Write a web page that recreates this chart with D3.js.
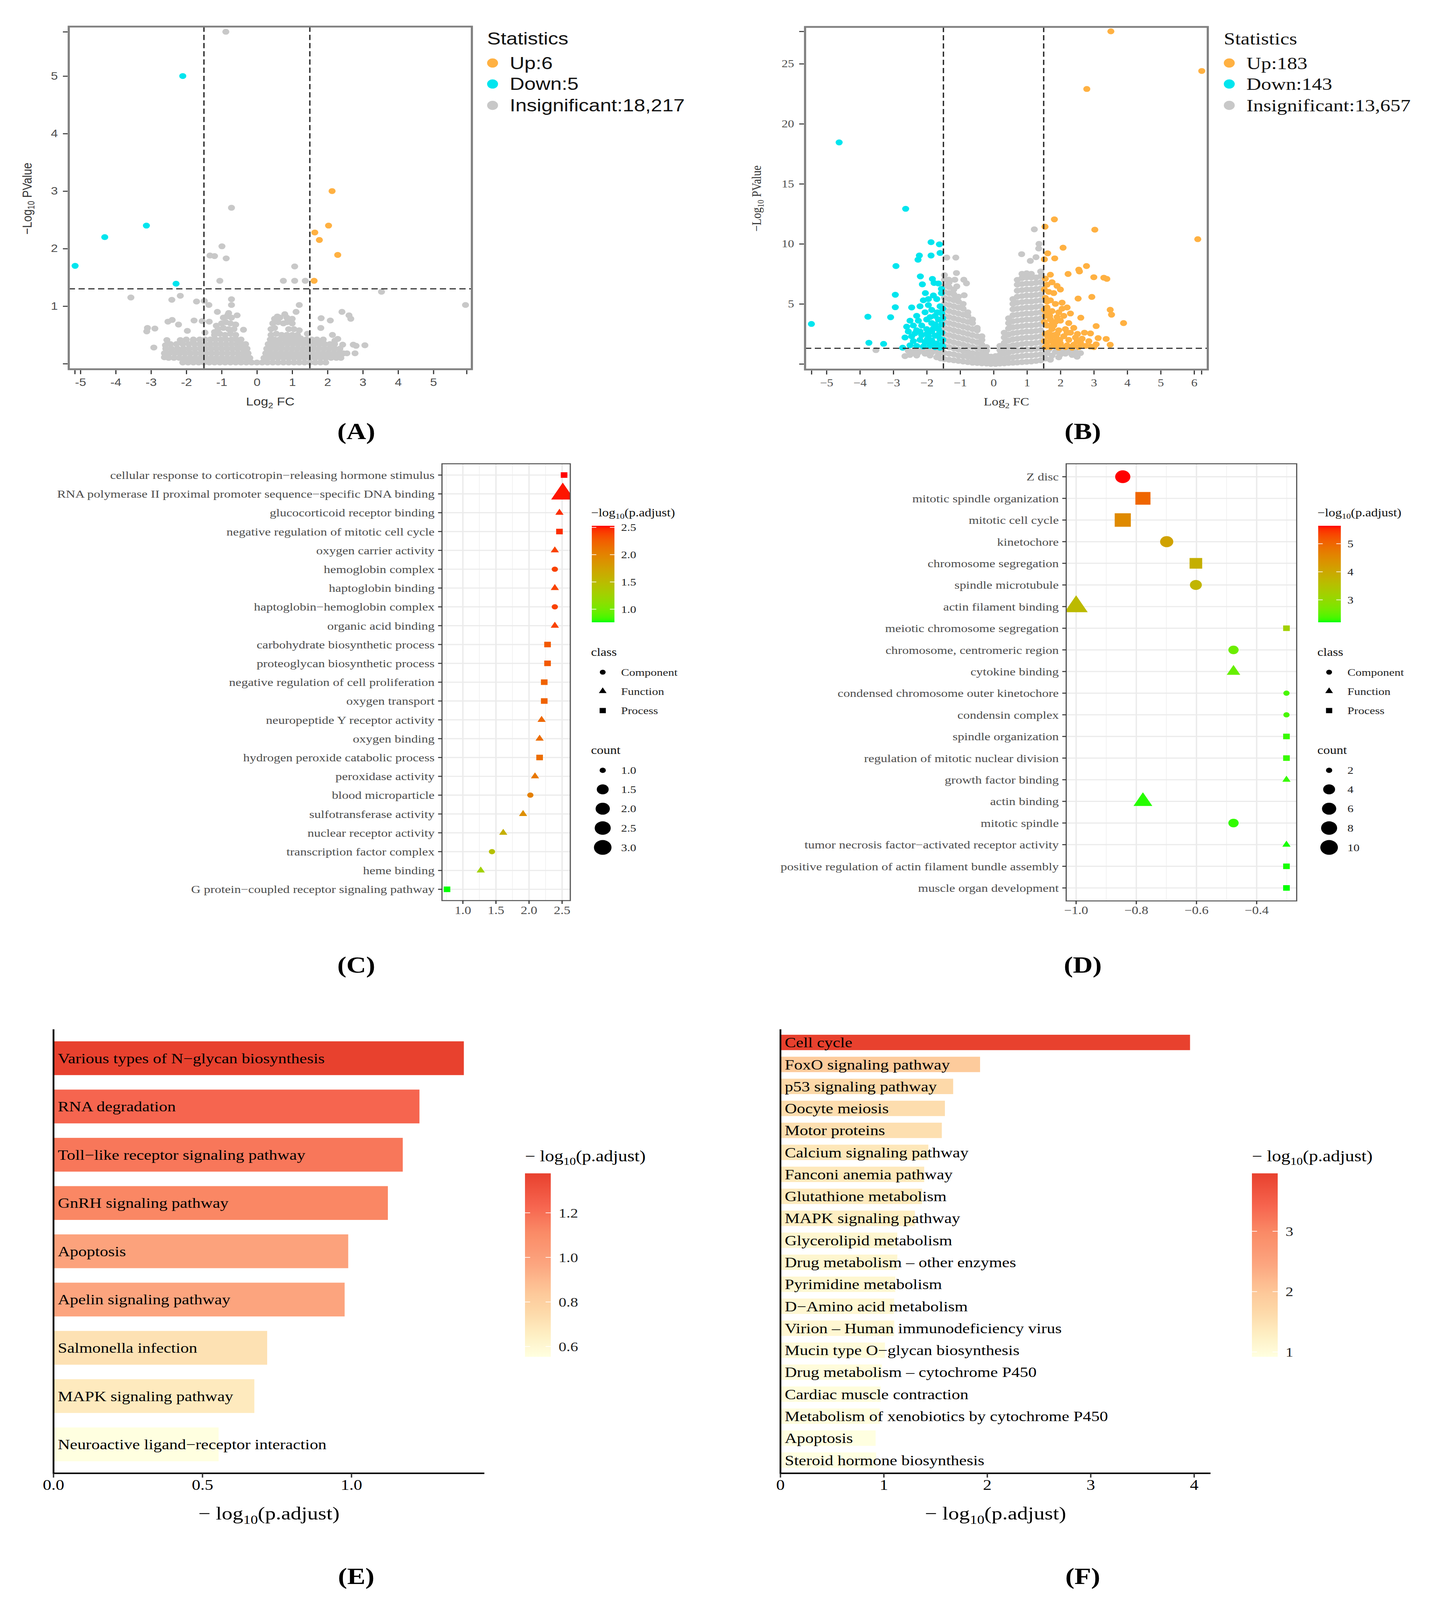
<!DOCTYPE html>
<html><head><meta charset="utf-8">
<script src="https://cdn.jsdelivr.net/npm/d3@7/dist/d3.min.js"></script>
<style>html,body{margin:0;padding:0;background:#fff;overflow:hidden;}svg{display:block;}</style>
</head><body>
<script>
// ================= DATA =================
// ---- Panel A (volcano) ----
const aUp = [[2.13,3.00],[2.03,2.40],[1.64,2.28],[1.77,2.15],[2.29,1.89],[1.62,1.44]];
const aDown = [[-5.15,1.70],[-4.31,2.20],[-3.13,2.40],[-2.10,5.00],[-2.29,1.39]];
const aGreyScatter = [[-0.88,5.77],[-0.72,2.71],[-0.99,2.04],[-1.33,1.88],[-1.2,1.87],[-0.87,1.83],[1.07,1.69],[-1.05,1.44],[0.75,1.44],[1.07,1.44],[1.37,1.44],[3.53,1.25],[5.91,1.02],[-3.57,1.15],[-2.41,1.11],[-2.17,1.18],[-1.71,1.08],[-1.49,1.09],[-1.36,1.02],[-0.72,1.12],[-0.72,1.02],[1.2,1.02],[1.11,0.9],[2.41,0.9],[2.61,0.84],[2.66,0.78],[-1.12,0.9],[-0.82,0.85],[-0.56,0.84],[0.79,0.86],[0.58,0.82],[1.82,0.79],[2.08,0.75],[-2.52,0.73],[-2.4,0.76],[-2.22,0.68],[-1.78,0.75],[-1.55,0.74],[-1.35,0.73],[-3.1,0.62],[-2.89,0.61],[-3.12,0.56],[-1.97,0.57],[-1.47,0.54],[-1.2,0.55],[-0.38,0.59],[-0.61,0.68],[1.81,0.62],[2.14,0.5],[-2.55,0.41],[-2.17,0.41],[-1.8,0.4],[-2.92,0.28],[-2.59,0.32],[2.21,0.4],[2.29,0.43],[2.43,0.33],[2.73,0.33],[2.81,0.31],[3.06,0.32],[2.78,0.18],[2.42,0.17],[1.83,0.36],[1.24,0.44],[1.43,0.52],[-2.62,0.11],[-2.24,0.24]];
const aGreyMid = [[-1.2,0.5],[-1.05,0.52],[-0.9,0.5],[-0.75,0.52],[-0.6,0.5],[-1.1,0.6],[-0.95,0.62],[-0.8,0.6],[-0.65,0.6],[-1.0,0.7],[-0.88,0.72],[-0.75,0.7],[-0.6,0.68],[-0.95,0.8],[-0.85,0.82],[-0.72,0.8],[-0.8,0.88],[-1.15,0.66],[0.4,0.5],[0.55,0.52],[0.7,0.5],[0.85,0.5],[1.0,0.5],[1.15,0.5],[0.4,0.6],[0.5,0.62],[0.9,0.6],[1.05,0.6],[1.2,0.58],[0.45,0.7],[0.6,0.72],[0.75,0.7],[0.85,0.72],[1.0,0.7],[0.5,0.78],[0.65,0.8],[0.85,0.8],[1.0,0.78]];
const aGreyRows = [
 [0.02,[-2.1,-1.95,-1.8,-1.65,-1.5,-1.35,-1.2,-1.05,-0.9,-0.75,-0.6,-0.45,-0.3,-0.15,0,0.15,0.3,0.45,0.6,0.75,0.9,1.05,1.2,1.35,1.5,1.65,1.8,1.95]],
 [0.10,[-2.5,-2.35,-2.2,-2.05,-1.9,-1.75,-1.6,-1.45,-1.3,-1.15,-1.0,-0.85,-0.7,-0.55,-0.42,-0.3,-0.2,0.2,0.32,0.45,0.6,0.75,0.9,1.05,1.2,1.35,1.5,1.65,1.8,1.95,2.1,2.25,2.38]],
 [0.18,[-2.62,-2.48,-2.33,-2.18,-2.03,-1.88,-1.73,-1.58,-1.43,-1.28,-1.13,-0.98,-0.83,-0.68,-0.53,-0.38,-0.25,0.25,0.38,0.52,0.67,0.82,0.97,1.12,1.27,1.42,1.57,1.72,1.87,2.02,2.17,2.32,2.45,2.55]],
 [0.26,[-2.58,-2.42,-2.25,-2.08,-1.92,-1.76,-1.6,-1.45,-1.3,-1.15,-1.0,-0.85,-0.7,-0.55,-0.4,-0.28,0.28,0.4,0.55,0.7,0.85,1.0,1.15,1.3,1.45,1.6,1.75,1.9,2.05,2.2,2.35]],
 [0.34,[-2.45,-2.28,-2.1,-1.93,-1.77,-1.62,-1.47,-1.32,-1.17,-1.02,-0.87,-0.72,-0.57,-0.44,-0.32,0.32,0.45,0.58,0.72,0.87,1.02,1.17,1.32,1.47,1.62,1.77,1.92,2.07,2.2]],
 [0.42,[-2.0,-1.8,-1.62,-1.47,-1.32,-1.17,-1.02,-0.87,-0.72,-0.58,-0.45,0.38,0.5,0.64,0.8,0.95,1.1,1.25,1.4,1.55,1.7,1.88]]
];
const aLegend = ["Up:6","Down:5","Insignificant:18,217"];
const aXTicks = [-5,-4,-3,-2,-1,0,1,2,3,4,5], aXExtra = [-5.16,5.94];
const aYTicks = [1,2,3,4,5], aYExtra = [0,5.77];

// ---- Panel B (volcano) ----
const bUp = [[3.51,27.7],[6.23,24.4],[2.79,22.9],[6.11,10.39],[1.54,11.43],[1.82,12.04],[3.03,11.18],[2.08,9.68],[1.62,9.21],[1.83,8.79],[1.52,8.71],[2.78,8.15],[2.55,7.85],[2.57,7.7],[2.23,7.49],[1.7,7.43],[3.0,7.22],[3.3,7.18],[3.39,7.08],[2.94,5.58],[2.53,5.44],[3.49,4.51],[3.53,4.1],[3.89,3.4],[3.07,3.15],[2.61,3.85],[2.9,2.54],[3.13,2.15],[3.37,2.08],[3.49,1.6],[3.07,1.63],[2.51,2.5],[2.72,2.6],
 [1.55,7.1],[1.6,6.6],[1.75,6.8],[1.9,6.5],[2.0,6.2],[1.65,6.0],[1.8,5.9],[1.55,5.5],[1.7,5.3],[1.85,5.0],[2.05,5.1],[2.2,4.7],[1.6,4.7],[1.75,4.4],[1.95,4.3],[2.1,4.0],[2.3,4.2],[1.55,4.0],[1.7,3.7],[1.85,3.5],[2.0,3.6],[2.25,3.4],[2.4,3.0],[1.6,3.2],[1.75,2.9],[1.95,2.8],[2.15,2.9],[2.3,2.6],[1.55,2.5],[1.7,2.2],[1.9,2.1],[2.1,2.3],[2.25,2.0],[2.45,2.2],[1.6,1.8],[1.8,1.6],[2.0,1.7],[2.2,1.55],[2.4,1.6],[2.6,1.75],[2.75,1.5],[2.9,1.45],[1.55,1.4],[1.7,1.4],[1.95,1.35],[2.15,1.4],[2.35,1.35],[2.55,1.4],[2.65,2.1],[2.85,1.9],[3.0,1.4],[1.65,2.6],[1.8,3.2],[2.05,4.6],[1.62,4.3],[1.9,2.5],[2.5,1.9],[1.75,1.9],
 [1.52,1.9],[1.62,2.3],[1.8,2.4],[1.52,3.5],[1.68,4.0],[1.9,3.9],[1.52,4.5],[1.75,3.3],[1.98,2.0],[2.2,2.6],[1.88,1.8],[1.6,5.2],[1.52,6.2]];
const bDown = [[-4.62,18.45],[-2.63,12.92],[-1.87,10.14],[-1.62,9.96],[-2.22,9.03],[-2.26,8.68],[-1.87,9.03],[-1.6,9.24],[-2.92,8.15],[-2.19,7.29],[-2.94,5.76],[-2.94,4.72],[-3.76,3.93],[-3.08,3.89],[-5.45,3.33],[-3.73,1.76],[-3.29,1.67],[-2.72,1.35],
 [-2.13,6.63],[-1.83,7.08],[-1.78,6.74],[-1.56,6.25],[-1.56,5.9],[-2.04,5.9],[-1.95,5.4],[-1.7,5.4],[-2.2,4.8],[-1.6,4.8],[-1.85,4.5],[-2.05,4.3],[-2.3,4.0],[-1.55,4.2],[-1.75,4.0],[-2.5,3.6],[-2.25,3.6],[-2.0,3.7],[-1.65,3.7],[-1.85,3.4],[-2.6,3.1],[-2.4,3.2],[-2.15,3.2],[-1.55,3.3],[-1.7,3.0],[-2.55,2.7],[-2.3,2.8],[-2.0,2.9],[-1.85,2.7],[-1.55,2.6],[-2.65,2.2],[-2.45,2.3],[-2.15,2.4],[-1.95,2.3],[-1.75,2.35],[-1.6,2.1],[-2.4,1.9],[-2.2,2.0],[-2.05,1.8],[-1.85,1.95],[-1.7,1.7],[-1.55,1.6],[-2.5,1.55],[-2.3,1.5],[-2.1,1.45],[-1.9,1.5],[-1.75,1.4],[-1.6,1.35],[-2.0,2.5],[-1.65,2.9],[-1.95,4.9],[-2.35,2.55],[-1.8,5.7],[-2.1,5.3],[-1.65,6.7],[-2.45,4.7],
 [-1.52,2.0],[-1.62,2.55],[-1.8,2.95],[-1.52,3.8],[-1.68,4.3],[-1.9,3.9],[-1.52,4.6],[-1.75,3.3],[-1.98,2.05],[-1.52,1.45],[-2.2,2.7],[-1.88,1.75]];
const bGreyScatter = [[1.22,11.21],[1.36,10.0],[1.35,9.61],[0.84,9.14],[1.1,8.58],[1.27,8.89],[-1.4,8.86],[-1.13,8.86],[-1.11,7.57],[-1.34,7.01],[-1.16,7.01],[-0.89,7.01],[-0.81,6.71],[-1.1,6.46],[-0.88,5.72],[-1.14,5.49],
 [-3.52,1.15],[-2.65,0.65],[-2.55,1.1],[-2.45,0.9],[-2.35,1.2],[-2.25,0.95],[-2.15,1.15],[-2.05,0.85],[-1.95,1.2],[-1.85,0.95],[-1.75,1.15],[-1.65,0.8],[-1.58,0.45],[-1.55,1.1],[-2.5,0.75],[-2.3,0.7],[-1.9,0.7],[-1.7,0.55],
 [1.55,0.45],[1.6,0.9],[1.65,1.2],[1.75,0.7],[1.85,1.0],[1.95,0.55],[2.05,1.15],[2.15,0.85],[2.25,1.1],[2.35,0.75],[2.45,1.0],[2.5,0.6],[2.6,0.9],[1.7,0.35],[2.0,0.8],[1.9,1.25],[2.3,1.25]];
const bGreyCols = [
 [-1.47,[0.4,0.9,1.5,2.0,2.5,3.0,3.5,4.0,4.5,5.0,5.5,6.0,6.5,7.0,7.4]],
 [-1.33,[0.35,0.85,1.4,1.9,2.4,2.9,3.4,3.9,4.4,4.9,5.4,5.9,6.4,6.8]],
 [-1.19,[0.3,0.8,1.3,1.8,2.3,2.8,3.3,3.8,4.3,4.8,5.3,5.8,6.2]],
 [-1.05,[0.25,0.7,1.2,1.7,2.2,2.7,3.2,3.7,4.2,4.7,5.2,5.6]],
 [-0.91,[0.2,0.65,1.1,1.6,2.1,2.6,3.1,3.6,4.1,4.6,5.0]],
 [-0.77,[0.15,0.6,1.0,1.5,2.0,2.5,3.0,3.5,4.0,4.3]],
 [-0.63,[0.1,0.5,0.9,1.4,1.9,2.4,2.9,3.4,3.7]],
 [-0.49,[0.08,0.45,0.85,1.3,1.8,2.3,2.8,3.0]],
 [-0.35,[0.05,0.4,0.8,1.2,1.6,2.0,2.3]],
 [-0.21,[0.03,0.35,0.7,1.1,1.4]],
 [-0.08,[0.0,0.3,0.6]],
 [0.06,[0.0,0.3,0.65]],
 [0.19,[0.03,0.35,0.75,1.15,1.5]],
 [0.32,[0.05,0.4,0.85,1.3,1.75,2.2,2.6]],
 [0.45,[0.08,0.5,0.95,1.45,1.95,2.45,2.95,3.4,3.8]],
 [0.58,[0.1,0.55,1.05,1.55,2.05,2.55,3.05,3.55,4.05,4.55,5.0,5.4]],
 [0.71,[0.12,0.6,1.1,1.6,2.1,2.6,3.1,3.6,4.1,4.6,5.1,5.6,6.1,6.6,7.0]],
 [0.85,[0.15,0.65,1.15,1.65,2.15,2.65,3.15,3.65,4.15,4.65,5.15,5.65,6.15,6.65,7.15,7.5]],
 [0.99,[0.18,0.7,1.2,1.7,2.2,2.7,3.2,3.7,4.2,4.7,5.2,5.7,6.2,6.7,7.2,7.55]],
 [1.13,[0.2,0.7,1.2,1.7,2.2,2.7,3.2,3.7,4.2,4.7,5.2,5.7,6.2,6.7,7.2,7.5]],
 [1.27,[0.25,0.75,1.25,1.75,2.25,2.75,3.25,3.75,4.25,4.75,5.25,5.75,6.25,6.75,7.2]],
 [1.41,[0.3,0.8,1.3,1.8,2.3,2.8,3.3,3.8,4.3,4.8,5.3,5.8,6.3,6.8,7.3,7.7]]
];
const bLegend = ["Up:183","Down:143","Insignificant:13,657"];
const bXTicks = [-5,-4,-3,-2,-1,0,1,2,3,4,5,6], bXExtra = [-5.45,6.22];
const bYTicks = [5,10,15,20,25], bYExtra = [0,27.7];
const fcCut = [-1.5,1.5], pCut = 1.301;

// ---- Panel C (GO dot plot) ----
const cTerms = ["cellular response to corticotropin−releasing hormone stimulus","RNA polymerase II proximal promoter sequence−specific DNA binding","glucocorticoid receptor binding","negative regulation of mitotic cell cycle","oxygen carrier activity","hemoglobin complex","haptoglobin binding","haptoglobin−hemoglobin complex","organic acid binding","carbohydrate biosynthetic process","proteoglycan biosynthetic process","negative regulation of cell proliferation","oxygen transport","neuropeptide Y receptor activity","oxygen binding","hydrogen peroxide catabolic process","peroxidase activity","blood microparticle","sulfotransferase activity","nuclear receptor activity","transcription factor complex","heme binding","G protein−coupled receptor signaling pathway"];
const cValues = [2.53,2.51,2.46,2.46,2.39,2.39,2.39,2.39,2.39,2.28,2.28,2.23,2.23,2.19,2.16,2.16,2.09,2.02,1.91,1.61,1.44,1.27,0.76];
const cClass = ["Process","Function","Function","Process","Function","Component","Function","Component","Function","Process","Process","Process","Process","Function","Function","Process","Function","Component","Function","Function","Component","Function","Process"];
const cCount = [1,3,1,1,1,1,1,1,1,1,1,1,1,1,1,1,1,1,1,1,1,1,1];
const cXTicks = [1.0,1.5,2.0,2.5], cXMinor = [0.75,1.25,1.75,2.25];
const cColorBreaks = [1.0,1.5,2.0,2.5], cCountBreaks = [1.0,1.5,2.0,2.5,3.0];

// ---- Panel D (GO dot plot) ----
const dTerms = ["Z disc","mitotic spindle organization","mitotic cell cycle","kinetochore","chromosome segregation","spindle microtubule","actin filament binding","meiotic chromosome segregation","chromosome, centromeric region","cytokine binding","condensed chromosome outer kinetochore","condensin complex","spindle organization","regulation of mitotic nuclear division","growth factor binding","actin binding","mitotic spindle","tumor necrosis factor−activated receptor activity","positive regulation of actin filament bundle assembly","muscle organ development"];
const dValues = [-0.845,-0.778,-0.845,-0.699,-0.602,-0.602,-1.0,-0.301,-0.477,-0.477,-0.301,-0.301,-0.301,-0.301,-0.301,-0.778,-0.477,-0.301,-0.301,-0.301];
const dLogP = [5.64,5.0,4.5,4.1,3.85,3.75,3.65,3.2,2.6,2.55,2.37,2.37,2.3,2.3,2.3,2.25,2.28,2.22,2.22,2.2];
const dClass = ["Component","Process","Process","Component","Process","Component","Function","Process","Component","Function","Component","Component","Process","Process","Function","Function","Component","Function","Process","Process"];
const dCount = [7,6,7,5,4,4,10,2,3,3,2,2,2,2,2,6,3,2,2,2];
const dXTicks = [-1.0,-0.8,-0.6,-0.4], dXMinor = [-0.9,-0.7,-0.5,-0.3];
const dColorBreaks = [3,4,5], dCountBreaks = [2,4,6,8,10];
const classNames = ["Component","Function","Process"];

// ---- Panel E (KEGG bars) ----
const eTerms = ["Various types of N−glycan biosynthesis","RNA degradation","Toll−like receptor signaling pathway","GnRH signaling pathway","Apoptosis","Apelin signaling pathway","Salmonella infection","MAPK signaling pathway","Neuroactive ligand−receptor interaction"];
const eValues = [1.377,1.228,1.172,1.122,0.989,0.977,0.717,0.674,0.554];
const eXTicks = [0,0.5,1.0], eColorBreaks = [0.6,0.8,1.0,1.2];

// ---- Panel F (KEGG bars) ----
const fTerms = ["Cell cycle","FoxO signaling pathway","p53 signaling pathway","Oocyte meiosis","Motor proteins","Calcium signaling pathway","Fanconi anemia pathway","Glutathione metabolism","MAPK signaling pathway","Glycerolipid metabolism","Drug metabolism – other enzymes","Pyrimidine metabolism","D−Amino acid metabolism","Virion – Human immunodeficiency virus","Mucin type O−glycan biosynthesis","Drug metabolism – cytochrome P450","Cardiac muscle contraction","Metabolism of xenobiotics by cytochrome P450","Apoptosis","Steroid hormone biosynthesis"];
const fValues = [3.96,1.93,1.67,1.59,1.56,1.43,1.39,1.37,1.30,1.13,1.13,1.11,1.10,1.10,1.01,0.98,0.97,0.96,0.92,0.925];
const fXTicks = [0,1,2,3,4], fColorBreaks = [1,2,3];

const panelLabels = ["(A)","(B)","(C)","(D)","(E)","(F)"];

// ================= STYLE =================
const SERIF = "'Liberation Serif','Times New Roman',Times,serif";
const SANS = "'Liberation Sans',Arial,Helvetica,sans-serif";
const GREY = "#C8C8C8", ORANGE = "#FFB142", CYAN = "#00E5EE";
const barStops = [0,0.12,0.25,0.35,0.5,0.68,0.82,1];
const barColors = ["#FFFFE0","#FEEFC3","#FDD8A8","#FDC899","#FCA680","#FA8A66","#F6654F","#E8412E"];

// Full figure is laid out on a 3666 x 4875 canvas and fitted to the window.
const FW = 3666, FH = 4875;
const vw = window.innerWidth || FW, vh = window.innerHeight || FH;
const svg = d3.select("body").append("svg").attr("width",vw).attr("height",vh)
  .attr("viewBox",`0 0 ${FW} ${FH}`).attr("preserveAspectRatio","none");
svg.append("rect").attr("width",FW).attr("height",FH).attr("fill","#fff");
const defs = svg.append("defs");

function richText(sel, parts, size){
  let prevSub=false;
  parts.forEach(([t,sub])=>{
    const ts=sel.append("tspan").text(t);
    if(sub){ts.attr("font-size",size*0.68).attr("dy",size*0.22);}
    else if(prevSub){ts.attr("dy",-size*0.22);}
    prevSub=sub;
  });
}

// ================= VOLCANO =================
function volcano(o){
  const g=svg.append("g");
  const x=d3.scaleLinear().domain(o.xDomain).range([o.left,o.right]);
  const y=d3.scaleLinear().domain(o.yDomain).range([o.bottom,o.top]);
  defs.append("clipPath").attr("id","clip"+o.id).append("rect")
    .attr("x",o.left).attr("y",o.top).attr("width",o.right-o.left).attr("height",o.bottom-o.top);
  const p=g.append("g").attr("clip-path",`url(#clip${o.id})`);
  [[o.grey,GREY],[o.down,CYAN],[o.up,ORANGE]].forEach(([data,c])=>{
    p.append("g").selectAll("circle").data(data).join("circle")
      .attr("cx",d=>x(d[0])).attr("cy",d=>y(d[1])).attr("r",9).attr("fill",c);
  });
  const dash=l=>l.attr("stroke","#2a2a2a").attr("stroke-width",3.5).attr("stroke-dasharray","16 9");
  fcCut.forEach(v=>p.append("line").attr("x1",x(v)).attr("x2",x(v)).attr("y1",o.top).attr("y2",o.bottom).call(dash));
  p.append("line").attr("x1",o.left).attr("x2",o.right).attr("y1",y(pCut)).attr("y2",y(pCut)).call(dash);
  g.append("rect").attr("x",o.left).attr("y",o.top).attr("width",o.right-o.left).attr("height",o.bottom-o.top)
    .attr("fill","none").attr("stroke","#808080").attr("stroke-width",5.5);
  const fmt=d=>d<0?o.minus+Math.abs(d):String(d);
  const style=s=>{s.select(".domain").remove();
    s.selectAll(".tick line").attr("stroke","#333").attr("stroke-width",3);
    s.selectAll(".tick text").attr("font-family",o.font).attr("font-size",32).attr("fill","#4d4d4d");};
  g.append("g").attr("transform",`translate(0,${o.bottom+3})`)
    .call(d3.axisBottom(x).tickValues(o.xTicks.concat(o.xExtra)).tickSize(12).tickPadding(13)
      .tickFormat(d=>o.xTicks.includes(d)?fmt(d):"")).call(style);
  g.append("g").attr("transform",`translate(${o.left-3},0)`)
    .call(d3.axisLeft(y).tickValues(o.yTicks.concat(o.yExtra)).tickSize(12).tickPadding(13)
      .tickFormat(d=>o.yTicks.includes(d)?fmt(d):"")).call(style);
  const xt=g.append("text").attr("x",(o.left+o.right)/2).attr("y",1224).attr("dy","0.35em")
    .attr("text-anchor","middle").attr("font-family",o.font).attr("font-size",34).attr("fill","#333");
  richText(xt,[["Log",false],["2",true],[" FC",false]],34);
  const yt=g.append("text").attr("transform",`translate(${o.ytX},605) rotate(-90)`).attr("dy","0.35em")
    .attr("text-anchor","middle").attr("font-family",o.font).attr("font-size",34).attr("fill","#333");
  richText(yt,[["−Log",false],["10",true],[" PValue",false]],34);
  g.append("text").attr("x",o.lx).attr("y",118).attr("dy","0.35em").attr("font-family",o.font)
    .attr("font-size",52).attr("fill","#111").text("Statistics");
  const lcol=[ORANGE,CYAN,GREY], ly=[192,256,321];
  o.legend.forEach((t,i)=>{
    g.append("circle").attr("cx",o.lx+14).attr("cy",ly[i]).attr("r",14).attr("fill",lcol[i]);
    g.append("text").attr("x",o.lx+58).attr("y",ly[i]).attr("dy","0.35em").attr("font-family",o.font)
      .attr("font-size",52).attr("fill","#111").text(t);
  });
}

function flattenRows(rows){const out=[];rows.forEach(([yv,xs])=>xs.forEach(xv=>out.push([xv,yv])));return out;}
function flattenCols(cols){const out=[];cols.forEach(([xv,ys])=>ys.forEach(yv=>out.push([xv,yv])));return out;}

volcano({id:"A",left:176,right:1208,top:81,bottom:1125,xDomain:[-5.33,6.09],yDomain:[-0.097,5.86],
  font:SANS,minus:"-",grey:flattenRows(aGreyRows).concat(aGreyMid,aGreyScatter),up:aUp,down:aDown,
  xTicks:aXTicks,xExtra:aXExtra,yTicks:aYTicks,yExtra:aYExtra,legend:aLegend,lx:1247,ytX:69});
volcano({id:"B",left:2061,right:3092,top:82,bottom:1126,xDomain:[-5.64,6.41],yDomain:[-0.47,28.07],
  font:SERIF,minus:"−",grey:flattenCols(bGreyCols).concat(bGreyScatter),up:bUp,down:bDown,
  xTicks:bXTicks,xExtra:bXExtra,yTicks:bYTicks,yExtra:bYExtra,legend:bLegend,lx:3133,ytX:1936});

// ================= COLORBAR =================
function colorbar(g,id,x0,y0,w,h,scale,domain,breaks,fmt,labelX,fs){
  const grad=defs.append("linearGradient").attr("id",id).attr("x1",0).attr("y1",1).attr("x2",0).attr("y2",0);
  d3.range(0,41).forEach(i=>{const t=i/40;
    grad.append("stop").attr("offset",t).attr("stop-color",scale(domain[0]+t*(domain[1]-domain[0])));});
  g.append("rect").attr("x",x0).attr("y",y0).attr("width",w).attr("height",h).attr("fill",`url(#${id})`);
  const yy=d3.scaleLinear().domain(domain).range([y0+h,y0]);
  breaks.forEach(b=>{
    g.append("line").attr("x1",x0).attr("x2",x0+w*0.2).attr("y1",yy(b)).attr("y2",yy(b)).attr("stroke","#fff").attr("stroke-width",2);
    g.append("line").attr("x1",x0+w*0.8).attr("x2",x0+w).attr("y1",yy(b)).attr("y2",yy(b)).attr("stroke","#fff").attr("stroke-width",2);
    g.append("text").attr("x",labelX).attr("y",yy(b)).attr("dy","0.35em").attr("font-family",SERIF)
      .attr("font-size",fs).attr("fill","#222").text(fmt(b));
  });
}

// ================= DOT PLOT =================
function shapePath(cls,D){
  if(cls==="Component"){const r=D/2;return `M${-r},0A${r},${r} 0 1,0 ${r},0A${r},${r} 0 1,0 ${-r},0Z`;}
  if(cls==="Process"){const s=D*1.06/2;return `M${-s},${-s}H${s}V${s}H${-s}Z`;}
  const w=D*1.32,h=w*0.866;return `M0,${-2*h/3}L${w/2},${h/3}L${-w/2},${h/3}Z`;
}
function dotplot(o){
  const g=svg.append("g");
  const x=d3.scaleLinear().domain(o.xDomain).range([o.left,o.right]);
  const y=d3.scalePoint().domain(o.terms).range([o.top,o.bottom]).padding(0.6);
  const cdom=d3.extent(o.logp);
  const col=d3.scaleLinear().domain(cdom).range(["#00FF00","#FF0000"]).interpolate(d3.interpolateLab);
  const cr=o.countRange;
  const dia=c=>16+29*Math.sqrt((c-cr[0])/(cr[1]-cr[0]));
  g.append("rect").attr("x",o.left).attr("y",o.top).attr("width",o.right-o.left).attr("height",o.bottom-o.top).attr("fill","#fff");
  o.minor.forEach(v=>g.append("line").attr("x1",x(v)).attr("x2",x(v)).attr("y1",o.top).attr("y2",o.bottom).attr("stroke","#F2F2F2").attr("stroke-width",2));
  o.major.forEach(v=>g.append("line").attr("x1",x(v)).attr("x2",x(v)).attr("y1",o.top).attr("y2",o.bottom).attr("stroke","#EBEBEB").attr("stroke-width",3.5));
  o.terms.forEach(t=>g.append("line").attr("x1",o.left).attr("x2",o.right).attr("y1",y(t)).attr("y2",y(t)).attr("stroke","#EBEBEB").attr("stroke-width",3.5));
  defs.append("clipPath").attr("id","clip"+o.id).append("rect")
    .attr("x",o.left).attr("y",o.top).attr("width",o.right-o.left).attr("height",o.bottom-o.top);
  const p=g.append("g").attr("clip-path",`url(#clip${o.id})`);
  p.selectAll("path").data(o.terms.map((t,i)=>({t,v:o.values[i],c:o.cls[i],n:o.count[i],lp:o.logp[i]})))
    .join("path").attr("transform",d=>`translate(${x(d.v)},${y(d.t)})`)
    .attr("d",d=>shapePath(d.c,dia(d.n))).attr("fill",d=>col(d.lp));
  g.append("rect").attr("x",o.left).attr("y",o.top).attr("width",o.right-o.left).attr("height",o.bottom-o.top)
    .attr("fill","none").attr("stroke","#555").attr("stroke-width",3);
  o.terms.forEach(t=>{
    g.append("line").attr("x1",o.left-10).attr("x2",o.left).attr("y1",y(t)).attr("y2",y(t)).attr("stroke","#333").attr("stroke-width",3);
    g.append("text").attr("x",o.left-19).attr("y",y(t)).attr("dy","0.35em").attr("text-anchor","end")
      .attr("font-family",SERIF).attr("font-size",33.5).attr("fill","#4d4d4d").text(t);
  });
  o.major.forEach(v=>{
    g.append("line").attr("x1",x(v)).attr("x2",x(v)).attr("y1",o.bottom).attr("y2",o.bottom+10).attr("stroke","#333").attr("stroke-width",3);
    g.append("text").attr("x",x(v)).attr("y",2773).attr("dy","0.35em").attr("text-anchor","middle")
      .attr("font-family",SERIF).attr("font-size",34).attr("fill","#4d4d4d").text(o.fmt(v));
  });
  const lx=o.right+55;
  const tt=g.append("text").attr("x",lx-2).attr("y",1561).attr("dy","0.35em").attr("font-family",SERIF).attr("font-size",34).attr("fill","#111");
  richText(tt,[["−log",false],["10",true],["(p.adjust)",false]],34);
  colorbar(g,"cb"+o.id,lx,1602,58,294,col,cdom,o.colorBreaks,o.cfmt,lx+75,31);
  g.append("text").attr("x",lx-2).attr("y",1986).attr("dy","0.35em").attr("font-family",SERIF).attr("font-size",34).attr("fill","#111").text("class");
  classNames.forEach((c,i)=>{
    const yy=[2048,2106,2165][i];
    g.append("path").attr("transform",`translate(${lx+28},${yy})`).attr("d",shapePath(c,15)).attr("fill","#000");
    g.append("text").attr("x",lx+75).attr("y",yy).attr("dy","0.35em").attr("font-family",SERIF).attr("font-size",31).attr("fill","#222").text(c);
  });
  g.append("text").attr("x",lx-2).attr("y",2285).attr("dy","0.35em").attr("font-family",SERIF).attr("font-size",34).attr("fill","#111").text("count");
  o.countBreaks.forEach((c,i)=>{
    const yy=[2347,2405,2464,2523,2582][i];
    g.append("circle").attr("cx",lx+28).attr("cy",yy).attr("r",dia(c)/2).attr("fill","#000");
    g.append("text").attr("x",lx+75).attr("y",yy).attr("dy","0.35em").attr("font-family",SERIF).attr("font-size",31).attr("fill","#222").text(o.countFmt(c));
  });
}

dotplot({id:"C",left:1131.5,right:1460,top:1413,bottom:2744,xDomain:[0.684,2.624],terms:cTerms,values:cValues,
  cls:cClass,count:cCount,logp:cValues,countRange:[1,3],major:cXTicks,minor:cXMinor,fmt:d3.format(".1f"),
  colorBreaks:cColorBreaks,cfmt:d3.format(".1f"),countBreaks:cCountBreaks,countFmt:d3.format(".1f")});
dotplot({id:"D",left:2729.5,right:3319.6,top:1413,bottom:2745,xDomain:[-1.033,-0.267],terms:dTerms,values:dValues,
  cls:dClass,count:dCount,logp:dLogP,countRange:[2,10],major:dXTicks,minor:dXMinor,fmt:d3.format(".1f"),
  colorBreaks:dColorBreaks,cfmt:d3.format("d"),countBreaks:dCountBreaks,countFmt:d3.format("d")});

// ================= BAR PLOT =================
function barplot(o){
  const g=svg.append("g");
  const vmax=d3.max(o.values), vmin=d3.min(o.values);
  const x=d3.scaleLinear().domain([0,vmax*1.05]).range([o.left,o.right]);
  const y=d3.scaleBand().domain(o.terms).range([3136,4489]).paddingInner(0.3).paddingOuter(0.25);
  const col=d3.scaleLinear().domain(barStops.map(t=>vmin+t*(vmax-vmin))).range(barColors);
  g.selectAll("rect.bar").data(o.terms.map((t,i)=>({t,v:o.values[i]}))).join("rect").attr("class","bar")
    .attr("x",x(0)).attr("y",d=>y(d.t)).attr("width",d=>x(d.v)-x(0)).attr("height",y.bandwidth()).attr("fill",d=>col(d.v));
  o.terms.forEach(t=>g.append("text").attr("x",x(0)+o.textDx).attr("y",y(t)+y.bandwidth()/2).attr("dy","0.35em")
    .attr("font-family",SERIF).attr("font-size",43).attr("fill","#000").text(t));
  g.append("line").attr("x1",x(0)).attr("x2",x(0)).attr("y1",3136).attr("y2",4491).attr("stroke","#000").attr("stroke-width",4.5);
  g.append("line").attr("x1",x(0)-2).attr("x2",o.right).attr("y1",4489).attr("y2",4489).attr("stroke","#000").attr("stroke-width",4.5);
  o.ticks.forEach(v=>{
    g.append("line").attr("x1",x(v)).attr("x2",x(v)).attr("y1",4489).attr("y2",4502).attr("stroke","#333").attr("stroke-width",3.5);
    g.append("text").attr("x",x(v)).attr("y",4524).attr("dy","0.35em").attr("text-anchor","middle")
      .attr("font-family",SERIF).attr("font-size",44).attr("fill","#000").text(o.fmt(v));
  });
  const xt=g.append("text").attr("x",(o.left+o.right)/2).attr("y",4611).attr("dy","0.35em").attr("text-anchor","middle")
    .attr("font-family",SERIF).attr("font-size",55).attr("fill","#000");
  richText(xt,[["− log",false],["10",true],["(p.adjust)",false]],55);
  const lt=g.append("text").attr("x",o.lx).attr("y",3522).attr("dy","0.35em").attr("font-family",SERIF).attr("font-size",47).attr("fill","#000");
  richText(lt,[["− log",false],["10",true],["(p.adjust)",false]],47);
  colorbar(g,"cb"+o.id,o.lx,3575,66,559,col,[vmin,vmax],o.colorBreaks,o.cfmt,o.lx+86,40);
}
barplot({id:"E",left:137,right:1240,terms:eTerms,values:eValues,ticks:eXTicks,fmt:d3.format(".1f"),textDx:11,
  lx:1344,colorBreaks:eColorBreaks,cfmt:d3.format(".1f")});
barplot({id:"F",left:1998,right:3099,terms:fTerms,values:fValues,ticks:fXTicks,fmt:d3.format("d"),textDx:11,
  lx:3205,colorBreaks:fColorBreaks,cfmt:d3.format("d")});

// ================= PANEL LABELS =================
const labelPos=[[912,1338],[2772,1338],[912,2963],[2772,2963],[912,4826],[2772,4826]];
panelLabels.forEach((t,i)=>svg.append("text").attr("x",labelPos[i][0]).attr("y",labelPos[i][1])
  .attr("text-anchor","middle").attr("font-family",SERIF).attr("font-weight","bold").attr("font-size",70).attr("fill","#000").text(t));
</script>
</body></html>
